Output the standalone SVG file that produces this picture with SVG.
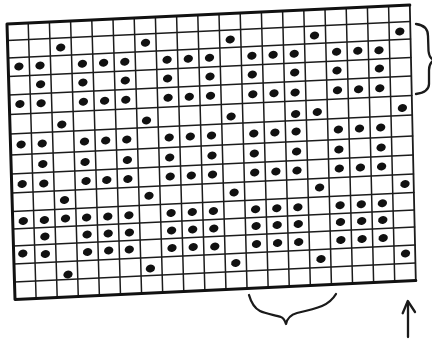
<svg xmlns="http://www.w3.org/2000/svg" xmlns:xlink="http://www.w3.org/1999/xlink" width="432" height="339" viewBox="0 0 432 339">
<style>
.g{stroke:#1c1c1c;stroke-width:1.5;fill:none;stroke-linecap:round}
.b{stroke:#111;stroke-width:3;fill:none;stroke-linejoin:round;stroke-linecap:round}
.m{stroke:#1a1a1a;stroke-width:2.3;fill:none;stroke-linecap:round;stroke-linejoin:round}
</style>
<defs>
<ellipse id="d" rx="4.7" ry="3.8" fill="#111" transform="rotate(-15)"/>
</defs>
<rect width="432" height="339" fill="#fff"/>
<g id="grid">
<g id="rows" class="g">
<line x1="7.48" y1="40.5" x2="410.16" y2="21.5"/>
<line x1="7.99" y1="58" x2="410.54" y2="39"/>
<line x1="8.52" y1="76.5" x2="410.94" y2="57.5"/>
<line x1="9.06" y1="95" x2="411.35" y2="76"/>
<line x1="9.63" y1="114.5" x2="411.77" y2="95.5"/>
<line x1="10.19" y1="134" x2="412.2" y2="115"/>
<line x1="10.8" y1="155" x2="412.65" y2="136"/>
<line x1="11.36" y1="174" x2="413.07" y2="155"/>
<line x1="11.91" y1="193" x2="413.48" y2="174"/>
<line x1="12.44" y1="211.5" x2="413.88" y2="192.5"/>
<line x1="12.95" y1="229" x2="414.26" y2="210"/>
<line x1="13.45" y1="246" x2="414.63" y2="227"/>
<line x1="13.97" y1="264" x2="415.03" y2="245"/>
<line x1="14.49" y1="282" x2="415.42" y2="263"/>
</g>
<g id="cols" class="g">
<line x1="28.2" y1="23" x2="36.09" y2="298.5"/>
<line x1="49.4" y1="22" x2="57.19" y2="297.5"/>
<line x1="70.6" y1="21" x2="78.28" y2="296.5"/>
<line x1="91.8" y1="20" x2="99.38" y2="295.5"/>
<line x1="113" y1="19" x2="120.47" y2="294.5"/>
<line x1="134.2" y1="18" x2="141.57" y2="293.5"/>
<line x1="155.4" y1="17" x2="162.66" y2="292.5"/>
<line x1="176.6" y1="16" x2="183.76" y2="291.5"/>
<line x1="197.8" y1="15" x2="204.85" y2="290.5"/>
<line x1="219" y1="14" x2="225.95" y2="289.5"/>
<line x1="240.2" y1="13" x2="247.04" y2="288.5"/>
<line x1="261.4" y1="12" x2="268.14" y2="287.5"/>
<line x1="282.6" y1="11" x2="289.23" y2="286.5"/>
<line x1="303.8" y1="10" x2="310.33" y2="285.5"/>
<line x1="325" y1="9" x2="331.42" y2="284.5"/>
<line x1="346.2" y1="8" x2="352.52" y2="283.5"/>
<line x1="367.4" y1="7" x2="373.61" y2="282.5"/>
<line x1="388.6" y1="6" x2="394.71" y2="281.5"/>
<line x1="409.8" y1="5" x2="415.8" y2="280.5" stroke-width="1.8"/>
</g>
<polyline id="border" class="b" points="409.8,5 7,24 15,299.5 415.8,280.5"/>
</g>
<g id="dots">
<g id="row2">
<use xlink:href="#d" x="60.7" y="47.5"/><use xlink:href="#d" x="145.5" y="42.75"/><use xlink:href="#d" x="230.2" y="39.5"/><use xlink:href="#d" x="314.5" y="35.5"/><use xlink:href="#d" x="399.8" y="31.5"/>
</g>
<g id="row3">
<use xlink:href="#d" x="18.9" y="66.5"/><use xlink:href="#d" x="40" y="65.5"/><use xlink:href="#d" x="82.4" y="63.75"/><use xlink:href="#d" x="103.6" y="62.75"/><use xlink:href="#d" x="124.8" y="61.75"/><use xlink:href="#d" x="167.1" y="59.75"/><use xlink:href="#d" x="188.3" y="58.75"/><use xlink:href="#d" x="209.5" y="57.75"/><use xlink:href="#d" x="251.9" y="55.75"/><use xlink:href="#d" x="273.1" y="54.75"/><use xlink:href="#d" x="294.2" y="53.75"/><use xlink:href="#d" x="336.6" y="51.75"/><use xlink:href="#d" x="357.8" y="50.75"/><use xlink:href="#d" x="379" y="50.25"/>
</g>
<g id="row4">
<use xlink:href="#d" x="40.6" y="84.25"/><use xlink:href="#d" x="82.9" y="82.5"/><use xlink:href="#d" x="125.3" y="80.5"/><use xlink:href="#d" x="167.6" y="78.5"/><use xlink:href="#d" x="210" y="76.5"/><use xlink:href="#d" x="252.3" y="74.5"/><use xlink:href="#d" x="294.7" y="72.5"/><use xlink:href="#d" x="337" y="70.5"/><use xlink:href="#d" x="379.4" y="68.5"/>
</g>
<g id="row5">
<use xlink:href="#d" x="19.9" y="104"/><use xlink:href="#d" x="41.1" y="103.25"/><use xlink:href="#d" x="83.4" y="101.75"/><use xlink:href="#d" x="104.6" y="100.75"/><use xlink:href="#d" x="125.8" y="99.75"/><use xlink:href="#d" x="168.1" y="97.75"/><use xlink:href="#d" x="189.3" y="96.75"/><use xlink:href="#d" x="210.5" y="95.75"/><use xlink:href="#d" x="252.8" y="94.25"/><use xlink:href="#d" x="274" y="93.25"/><use xlink:href="#d" x="295.1" y="92.5"/><use xlink:href="#d" x="337.5" y="90.25"/><use xlink:href="#d" x="358.6" y="89.25"/><use xlink:href="#d" x="379.8" y="88.25"/>
</g>
<g id="row6">
<use xlink:href="#d" x="61.8" y="124.5"/><use xlink:href="#d" x="146.5" y="120.5"/><use xlink:href="#d" x="231.1" y="116.5"/><use xlink:href="#d" x="295.6" y="114"/><use xlink:href="#d" x="317.3" y="112"/><use xlink:href="#d" x="402.4" y="108"/>
</g>
<g id="row7">
<use xlink:href="#d" x="21.1" y="144.5"/><use xlink:href="#d" x="42.2" y="143.5"/><use xlink:href="#d" x="84.5" y="141.5"/><use xlink:href="#d" x="105.7" y="140.5"/><use xlink:href="#d" x="126.8" y="139.5"/><use xlink:href="#d" x="169.2" y="137.5"/><use xlink:href="#d" x="190.3" y="136.5"/><use xlink:href="#d" x="211.5" y="135.5"/><use xlink:href="#d" x="253.8" y="133.5"/><use xlink:href="#d" x="274.9" y="132.5"/><use xlink:href="#d" x="296.1" y="131.5"/><use xlink:href="#d" x="338.4" y="129.5"/><use xlink:href="#d" x="359.5" y="128.5"/><use xlink:href="#d" x="380.7" y="127.5"/>
</g>
<g id="row8">
<use xlink:href="#d" x="42.8" y="164"/><use xlink:href="#d" x="85.1" y="162"/><use xlink:href="#d" x="127.4" y="160"/><use xlink:href="#d" x="169.7" y="157.5"/><use xlink:href="#d" x="212" y="155.5"/><use xlink:href="#d" x="254.3" y="153.5"/><use xlink:href="#d" x="296.6" y="151.5"/><use xlink:href="#d" x="338.9" y="149.5"/><use xlink:href="#d" x="381.1" y="147.5"/>
</g>
<g id="row9">
<use xlink:href="#d" x="22.2" y="184"/><use xlink:href="#d" x="43.8" y="183.5"/><use xlink:href="#d" x="86.1" y="181"/><use xlink:href="#d" x="106.8" y="180"/><use xlink:href="#d" x="127.9" y="179"/><use xlink:href="#d" x="170.2" y="176.5"/><use xlink:href="#d" x="191.3" y="175.5"/><use xlink:href="#d" x="212.5" y="174.5"/><use xlink:href="#d" x="254.7" y="172.5"/><use xlink:href="#d" x="275.9" y="171.5"/><use xlink:href="#d" x="297" y="170.5"/><use xlink:href="#d" x="339.3" y="168.5"/><use xlink:href="#d" x="360.4" y="167.5"/><use xlink:href="#d" x="381.6" y="166.5"/>
</g>
<g id="row10">
<use xlink:href="#d" x="64.5" y="200"/><use xlink:href="#d" x="149" y="195.75"/><use xlink:href="#d" x="234.1" y="192.5"/><use xlink:href="#d" x="319.6" y="187.5"/><use xlink:href="#d" x="405" y="184"/>
</g>
<g id="row11">
<use xlink:href="#d" x="23.3" y="221"/><use xlink:href="#d" x="44.4" y="220"/><use xlink:href="#d" x="65.5" y="218.5"/><use xlink:href="#d" x="86.6" y="217.5"/><use xlink:href="#d" x="107.8" y="216.5"/><use xlink:href="#d" x="128.9" y="215.25"/><use xlink:href="#d" x="171.1" y="213"/><use xlink:href="#d" x="192.3" y="212"/><use xlink:href="#d" x="213.4" y="211"/><use xlink:href="#d" x="255.6" y="209.25"/><use xlink:href="#d" x="276.8" y="208.25"/><use xlink:href="#d" x="297.9" y="207.25"/><use xlink:href="#d" x="340.1" y="205.25"/><use xlink:href="#d" x="361.3" y="204.25"/><use xlink:href="#d" x="382.4" y="203.25"/>
</g>
<g id="row12">
<use xlink:href="#d" x="44.9" y="236.5"/><use xlink:href="#d" x="87.1" y="234.5"/><use xlink:href="#d" x="108.2" y="233.5"/><use xlink:href="#d" x="129.4" y="232.5"/><use xlink:href="#d" x="171.6" y="230.5"/><use xlink:href="#d" x="192.7" y="229.5"/><use xlink:href="#d" x="213.8" y="228.5"/><use xlink:href="#d" x="256.1" y="226"/><use xlink:href="#d" x="277.2" y="225"/><use xlink:href="#d" x="298.3" y="224"/><use xlink:href="#d" x="340.5" y="222"/><use xlink:href="#d" x="361.7" y="221"/><use xlink:href="#d" x="382.8" y="220"/>
</g>
<g id="row13">
<use xlink:href="#d" x="22.8" y="253.5"/><use xlink:href="#d" x="45.4" y="254"/><use xlink:href="#d" x="87.6" y="252"/><use xlink:href="#d" x="108.7" y="250.5"/><use xlink:href="#d" x="129.3" y="249.5"/><use xlink:href="#d" x="172" y="248"/><use xlink:href="#d" x="193.2" y="247"/><use xlink:href="#d" x="214.8" y="246.5"/><use xlink:href="#d" x="256.5" y="244"/><use xlink:href="#d" x="277.6" y="243"/><use xlink:href="#d" x="298.7" y="242"/><use xlink:href="#d" x="340.9" y="240"/><use xlink:href="#d" x="362.1" y="239"/><use xlink:href="#d" x="383.2" y="238"/>
</g>
<g id="row14">
<use xlink:href="#d" x="68" y="274.5"/><use xlink:href="#d" x="150.4" y="268.5"/><use xlink:href="#d" x="235.8" y="263"/><use xlink:href="#d" x="321" y="259"/><use xlink:href="#d" x="405.5" y="253.5"/>
</g>
</g>
<g id="marks">
<path id="brace-right" class="m" d="M416,24 C424,25 428,29 428,36 L428.5,51 C429,56 431,59 434,60 C431,62 429,65 429,70 L429,84 C429,90 423,93 416,94"/>
<path id="brace-bottom" class="m" d="M249,295 C251,302 254,308 260,311 C266,314 276,315 281,317 C284,318 285,321 286,324 C287,319 290,315 297,313 C306,311 315,309 322,306 C329,303 333,299 336,294"/>
<g id="arrow" class="m">
<line x1="408" y1="337" x2="408" y2="302"/>
<polyline points="402.7,313.3 407.8,301 415,312"/>
</g>
</g>
</svg>
